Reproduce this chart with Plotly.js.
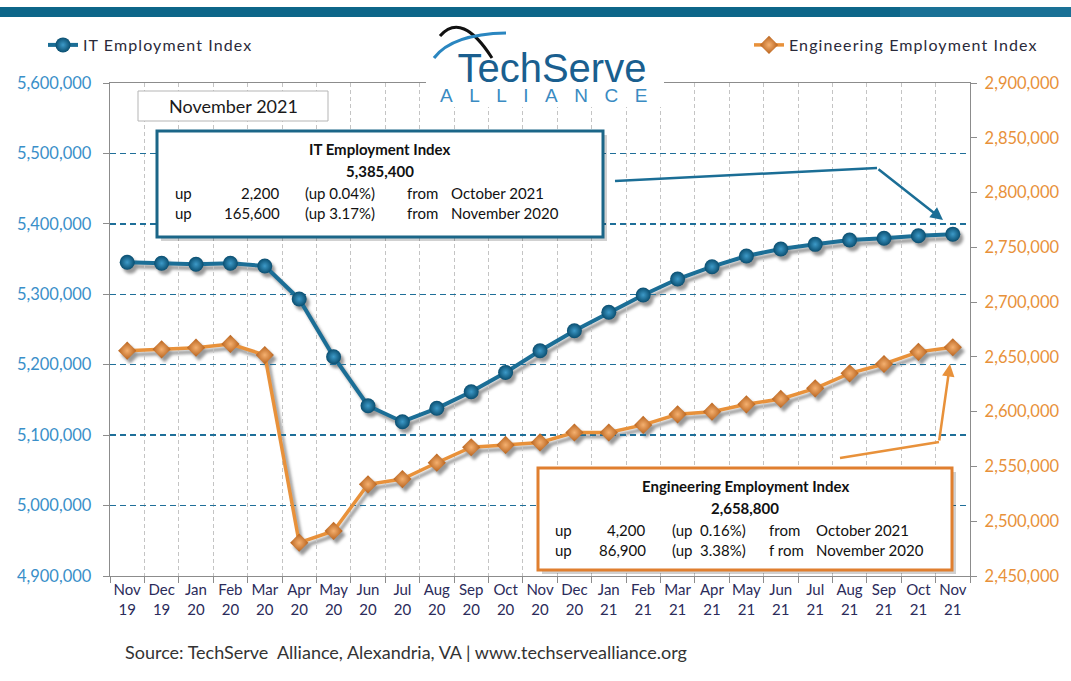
<!DOCTYPE html>
<html>
<head>
<meta charset="utf-8">
<script src="https://cdn.plot.ly/plotly-3.0.1.min.js"></script>
<style>
html,body{margin:0;padding:0;background:#fff;}
#wrap{position:relative;width:1071px;height:681px;overflow:hidden;}
#shadow{position:absolute;left:3px;top:4px;width:1071px;height:681px;filter:blur(1.6px);opacity:0.5;z-index:0;}
#chart{position:absolute;left:0;top:0;width:1071px;height:681px;z-index:1;}
</style>
</head>
<body>
<div id="wrap"><div id="shadow"></div><div id="chart"></div></div>
<script>
// ---- data ----
const months = ["Nov<br>19","Dec<br>19","Jan<br>20","Feb<br>20","Mar<br>20","Apr<br>20","May<br>20","Jun<br>20","Jul<br>20","Aug<br>20","Sep<br>20","Oct<br>20","Nov<br>20","Dec<br>20","Jan<br>21","Feb<br>21","Mar<br>21","Apr<br>21","May<br>21","Jun<br>21","Jul<br>21","Aug<br>21","Sep<br>21","Oct<br>21","Nov<br>21"];
const itIndex = [5345400,5344000,5342600,5344000,5340200,5293300,5211400,5141800,5119100,5138100,5161700,5189000,5219800,5248300,5274400,5299000,5321700,5339200,5354400,5364300,5370900,5377100,5379500,5383200,5385400];
const engIndex = [2655700,2656900,2658400,2661800,2651700,2480400,2491100,2533700,2538500,2553400,2567500,2569600,2571900,2581000,2581000,2587900,2597600,2600000,2606700,2611600,2621300,2635000,2643500,2654600,2658800];
const itName = "IT Employment Index";
const engName = "Engineering Employment Index";
const leftRange = [4900000, 5600000];
const rightRange = [2450000, 2900000];
const periodLabel = "November 2021";
const itBox = {title:"IT Employment Index", value:"5,385,400",
  rows:[["up","2,200","(up 0.04%)","from","October 2021"],["up","165,600","(up 3.17%)","from","November 2020"]]};
const engBox = {title:"Engineering Employment Index", value:"2,658,800",
  rows:[["up","4,200","(up  0.16%)","from","October 2021"],["up","86,900","(up  3.38%)","f rom","November 2020"]]};
const logoTop = "TechServe", logoBottom = "ALLIANCE";
const sourceText = "Source: TechServe  Alliance, Alexandria, VA | www.techservealliance.org";

// ---- geometry helpers (decorations only, pixel -> paper) ----
const L=110, R=970, T=83, B=576;
const px = x => (x-L)/(R-L);
const py = y => (B-y)/(B-T);
const FONT = "Lato, 'Open Sans', sans-serif";
const IT_BLUE = "#1b6e96", ENG_OR = "#e8913a";
const sp = (s, ls) => `<span style="letter-spacing:${ls}px">${s}</span>`;

const traces = [
  {x: months, y: itIndex, name: sp(itName,1.1), type:"scatter", mode:"lines+markers",
   line:{color:IT_BLUE, width:4},
   marker:{symbol:"circle", size:15, color:"#0a4e70", line:{width:0},
           gradient:{type:"radial", color:"#3d9ac8"}},
   legend:"legend", yaxis:"y"},
  {x: months, y: engIndex, name: sp(engName,1.1), type:"scatter", mode:"lines+markers",
   line:{color:ENG_OR, width:3.5},
   marker:{symbol:"diamond", size:14, color:"#b8621c", line:{width:0},
           gradient:{type:"radial", color:"#f4b070"}},
   legend:"legend2", yaxis:"y2"}
];

const shapes = [];
const annotations = [];
function rect(x0,y0,x1,y1,fill,lineColor,lw){
  shapes.push({type:"rect", xref:"paper", yref:"paper", x0:px(x0), x1:px(x1), y0:py(y1), y1:py(y0),
    fillcolor:fill, line:{color:lineColor||"rgba(0,0,0,0)", width:lw||0}, layer:"above"});
}
function seg(x0,y0,x1,y1,color,w){
  shapes.push({type:"line", xref:"paper", yref:"paper", x0:px(x0), y0:py(y0), x1:px(x1), y1:py(y1),
    line:{color:color, width:w}, layer:"above"});
}
function txt(s,x,y,size,color,anchor,bold,family){
  annotations.push({text: bold?("<b>"+s+"</b>"):s, xref:"paper", yref:"paper", x:px(x), y:py(y),
    xanchor:anchor||"center", yanchor:"middle", showarrow:false,
    font:{family:family||FONT, size:size, color:color||"#1a1a1a"}});
}

// top band
rect(0,7,1071,17,"#0d6689",null,0);
rect(900,7,1071,17,"#1a7196",null,0);

// logo background + logo
rect(426,78,664,107,"#ffffff",null,0);
shapes.push({type:"path", xref:"paper", yref:"paper", layer:"above",
  path:`M ${px(440)} ${py(36)} Q ${px(462)} ${py(11)} ${px(492)} ${py(58)}`, line:{color:"#111", width:3}});
shapes.push({type:"path", xref:"paper", yref:"paper", layer:"above",
  path:`M ${px(434)} ${py(58)} Q ${px(452)} ${py(34)} ${px(506)} ${py(33)}`, line:{color:"#2a86c0", width:3}});
annotations.push({xref:"paper", yref:"paper", x:px(552), y:py(76), xanchor:"center", yanchor:"middle",
  showarrow:false, align:"center",
  font:{family:"'Liberation Sans', Arial, sans-serif", size:15, color:"#1a5f8f"},
  text:`<span style="font-size:40px;fill:#1a5f8f">${logoTop}</span><br><span style="font-size:19px;letter-spacing:16.5px;fill:#3a8bc2">${logoBottom}</span>`});

// period box
rect(138,91,328,121,"#ffffff","#b5b5b5",1);
txt(periodLabel, 233, 106, 18, "#1a1a1a", "center");

// IT box
rect(161,135,607,241,"rgba(0,0,0,0.18)",null,0);
rect(157,131,603,237,"#ffffff","#1b6688",3);
txt(itBox.title, 380, 149, 15, "#111", "center", true);
txt(itBox.value, 380, 171, 15, "#111", "center", true);
itBox.rows.forEach((r,i)=>{
  const y = 193 + i*20;
  txt(r[0],173,y,15,"#111","left");
  txt(r[1],282,y,15,"#111","right");
  txt(r[2],303,y,15,"#111","left");
  txt(r[3],405,y,15,"#111","left");
  txt(r[4],449,y,15,"#111","left");
});

// Eng box
rect(542,472,956,574,"rgba(0,0,0,0.18)",null,0);
rect(538,468,952,570,"#ffffff","#e07f2f",3);
txt(engBox.title, 745, 486, 15, "#111", "center", true);
txt(engBox.value, 745, 508, 15, "#111", "center", true);
engBox.rows.forEach((r,i)=>{
  const y = 530 + i*19.5;
  txt(r[0],553,y,15,"#111","left");
  txt(r[1],648,y,15,"#111","right");
  txt(r[2],670,y,15,"#111","left");
  txt(r[3],767,y,15,"#111","left");
  txt(r[4],814,y,15,"#111","left");
});

// callout arrows
seg(615,181,877,168,IT_BLUE,2.5);
annotations.push({text:"", xref:"paper", yref:"paper", x:px(943), y:py(220), ax:877-943, ay:168-220,
  showarrow:true, arrowhead:2, arrowsize:1, arrowwidth:2.5, arrowcolor:IT_BLUE, standoff:0});
seg(840,458,939,442,ENG_OR,2.5);
annotations.push({text:"", xref:"paper", yref:"paper", x:px(950), y:py(364), ax:939-950, ay:442-364,
  showarrow:true, arrowhead:2, arrowsize:1, arrowwidth:2.5, arrowcolor:ENG_OR, standoff:0});

// source
txt(sourceText, 123, 652, 18, "#333", "left");

const layout = {
  width:1071, height:681,
  margin:{l:L, r:1071-R, t:T, b:681-B, pad:0},
  paper_bgcolor:"rgba(0,0,0,0)", plot_bgcolor:"rgba(0,0,0,0)",
  font:{family:FONT, size:15, color:"#2b2b5a"},
  xaxis:{type:"category", range:[-0.5, months.length-0.5], tickson:"boundaries",
    showgrid:true, gridcolor:"#c4c4c4", griddash:"4px,3px", gridwidth:1,
    showline:true, linecolor:"#8c8c8c", linewidth:1.3, mirror:true,
    ticks:"outside", ticklen:6, tickcolor:"#8c8c8c", tickwidth:1,
    tickfont:{family:FONT, size:15, color:"#2b2b5a"}, tickangle:0, fixedrange:true},
  yaxis:{range:leftRange, dtick:100000, tickformat:",", showgrid:true,
    gridcolor:"#1f6f99", griddash:"6px,4px", gridwidth:1.3, zeroline:false,
    showline:true, linecolor:"#8c8c8c", linewidth:1.3,
    ticks:"outside", ticklen:6, tickcolor:"#8c8c8c", ticklabelstandoff:8,
    tickfont:{family:FONT, size:16.5, color:"#3a8fc9"}},
  yaxis2:{range:rightRange, dtick:50000, tickformat:",", overlaying:"y", side:"right",
    showgrid:false, zeroline:false, showline:true, linecolor:"#8c8c8c", linewidth:1.3,
    ticks:"outside", ticklen:6, tickcolor:"#8c8c8c", ticklabelstandoff:4,
    tickfont:{family:FONT, size:16.5, color:"#e8913a"}},
  showlegend:true,
  legend:{x:px(43), y:py(45), xanchor:"left", yanchor:"middle", bgcolor:"rgba(0,0,0,0)",
    font:{family:FONT, size:16, color:"#2a2a3a"}, itemwidth:30},
  legend2:{x:px(749), y:py(45), xanchor:"left", yanchor:"middle", bgcolor:"rgba(0,0,0,0)",
    font:{family:FONT, size:16, color:"#2a2a3a"}, itemwidth:30},
  shapes:shapes, annotations:annotations
};

// soft drop shadow of the two series (same data, same scales, drawn underneath)
const shadowTraces = traces.map(t => ({x:t.x, y:t.y, yaxis:t.yaxis, type:"scatter", mode:"lines+markers",
  line:{color:"#333", width:t.line.width}, marker:{symbol:t.marker.symbol, size:t.marker.size, color:"#333"},
  showlegend:false}));
const shadowLayout = {
  width:1071, height:681, margin:layout.margin,
  paper_bgcolor:"rgba(0,0,0,0)", plot_bgcolor:"rgba(0,0,0,0)", showlegend:false,
  xaxis:{type:"category", range:layout.xaxis.range, visible:false},
  yaxis:{range:leftRange, visible:false},
  yaxis2:{range:rightRange, overlaying:"y", visible:false}
};
Plotly.newPlot("shadow", shadowTraces, shadowLayout, {displayModeBar:false, staticPlot:true});
Plotly.newPlot("chart", traces, layout, {displayModeBar:false, staticPlot:true});
</script>
</body>
</html>
